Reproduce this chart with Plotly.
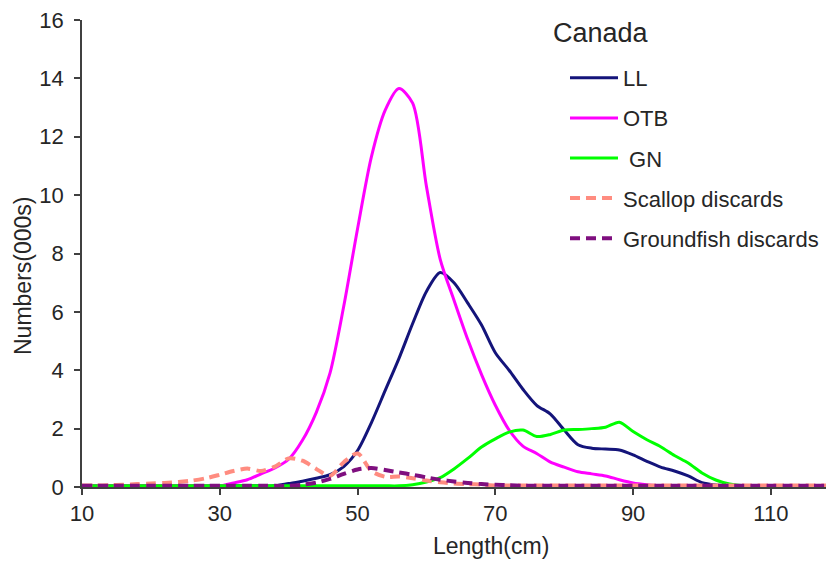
import plotly.graph_objects as go

# Length classes (cm)
length_cm = list(range(10, 120, 2))

LL = [0.04]*15 + [0.12, 0.2, 0.3, 0.42, 0.7, 1.25, 2.2, 3.3, 4.4, 5.6, 6.7, 7.35, 7.0, 6.3, 5.55,
      4.6, 4.0, 3.35, 2.8, 2.5, 1.95, 1.45, 1.33, 1.3, 1.27, 1.1, 0.88, 0.68, 0.55, 0.38, 0.15,
      0.07] + [0.04]*8

OTB = [0.04]*11 + [0.14, 0.25, 0.45, 0.65, 0.95, 1.6, 2.55, 3.9, 6.2, 8.85, 11.3, 12.9, 13.65,
       13.15, 10.3, 7.8, 6.4, 5.05, 3.85, 2.8, 1.95, 1.4, 1.15, 0.85, 0.68, 0.52, 0.45, 0.38,
       0.25, 0.14, 0.08] + [0.04]*12

GN = [0.04]*24 + [0.08, 0.17, 0.32, 0.62, 0.98, 1.37, 1.65, 1.88, 1.95, 1.73, 1.8, 1.95, 1.97,
      2.0, 2.05, 2.22, 1.9, 1.62, 1.38, 1.08, 0.82, 0.48, 0.24, 0.1] + [0.04]*7

SCALLOP = [0.05, 0.05, 0.06, 0.08, 0.1, 0.12, 0.14, 0.17, 0.22, 0.3, 0.42, 0.55, 0.63, 0.55,
           0.7, 0.98, 0.9, 0.62, 0.38, 0.85, 1.15, 0.55, 0.35, 0.36, 0.3, 0.22, 0.16, 0.12,
           0.1, 0.08] + [0.05]*25

GROUNDFISH = [0.04]*16 + [0.08, 0.15, 0.28, 0.45, 0.6, 0.65, 0.58, 0.5, 0.42, 0.33, 0.25, 0.19,
              0.14, 0.1, 0.08, 0.06] + [0.04]*23

series = [
    ("LL", LL, "#14147a", None, 3),
    ("OTB", OTB, "#ff00ff", None, 3),
    (" GN", GN, "#00ff00", None, 3),
    ("Scallop discards", SCALLOP, "#ff8c80", "10px,6px", 4),
    ("Groundfish discards", GROUNDFISH, "#7f0f7f", "10px,6px", 4),
]

fig = go.Figure()
for i, (name, vals, color, dash, w) in enumerate(series):
    fig.add_trace(go.Scatter(
        x=length_cm, y=vals, name=name, mode="lines",
        line=dict(color=color, width=w, dash=dash, shape="spline", smoothing=0.8),
        legendgroup=f"g{i}",
    ))

FONT = "Liberation Sans, Arial, sans-serif"
OFF = 8  # page body margin offset
L, R, T, B = 82 - OFF, 10, 20 - OFF, 76
W, H = 836 - OFF, 563 - OFF
PW, PH = W - L - R, H - T - B
X0, Y0 = 82, 487  # plot-area left / bottom on screen


def px(xs):
    return (xs - X0) / PW


def py(ys):
    return (Y0 - ys) / PH


fig.update_layout(
    width=W, height=H,
    margin=dict(l=L, r=R, t=T, b=B, autoexpand=False),
    paper_bgcolor="white", plot_bgcolor="white",
    font=dict(family=FONT, color="#262626"),
    showlegend=True,
    legend=dict(
        font=dict(size=22, family=FONT, color="#262626"),
        xref="paper", yref="paper",
        x=px(565), y=py(57), xanchor="left", yanchor="top",
        bgcolor="rgba(0,0,0,0)", tracegroupgap=8.5, itemwidth=48,
    ),
    xaxis=dict(
        range=[10, 118], tick0=10, dtick=20, showgrid=False, zeroline=False,
        showline=True, linecolor="#404040", linewidth=1.5, automargin=False,
        ticks="outside", ticklen=6, tickcolor="#404040", tickwidth=1.5,
        ticklabeloverflow="allow",
        tickfont=dict(size=22, family=FONT, color="#262626"),
    ),
    yaxis=dict(
        range=[0, 16], dtick=2, showgrid=False, zeroline=False,
        showline=True, linecolor="#404040", linewidth=1.5, automargin=False,
        ticks="outside", ticklen=6, tickcolor="#404040", tickwidth=1.5,
        ticklabelstandoff=6, ticklabeloverflow="allow",
        tickfont=dict(size=22, family=FONT, color="#262626"),
    ),
    annotations=[
        dict(text="Canada", xref="paper", yref="paper", x=px(551), y=py(33),
             xanchor="left", yanchor="middle", showarrow=False,
             font=dict(size=27, family=FONT, color="#262626")),
        dict(text="Length(cm)", xref="paper", yref="paper", x=px(491), y=py(546),
             xanchor="center", yanchor="middle", showarrow=False,
             font=dict(size=23, family=FONT, color="#262626")),
        dict(text="Numbers(000s)", xref="paper", yref="paper", x=px(23), y=py(276),
             xanchor="center", yanchor="middle", showarrow=False, textangle=-90,
             font=dict(size=23, family=FONT, color="#262626")),
    ],
)

fig.write_html("out.html")
